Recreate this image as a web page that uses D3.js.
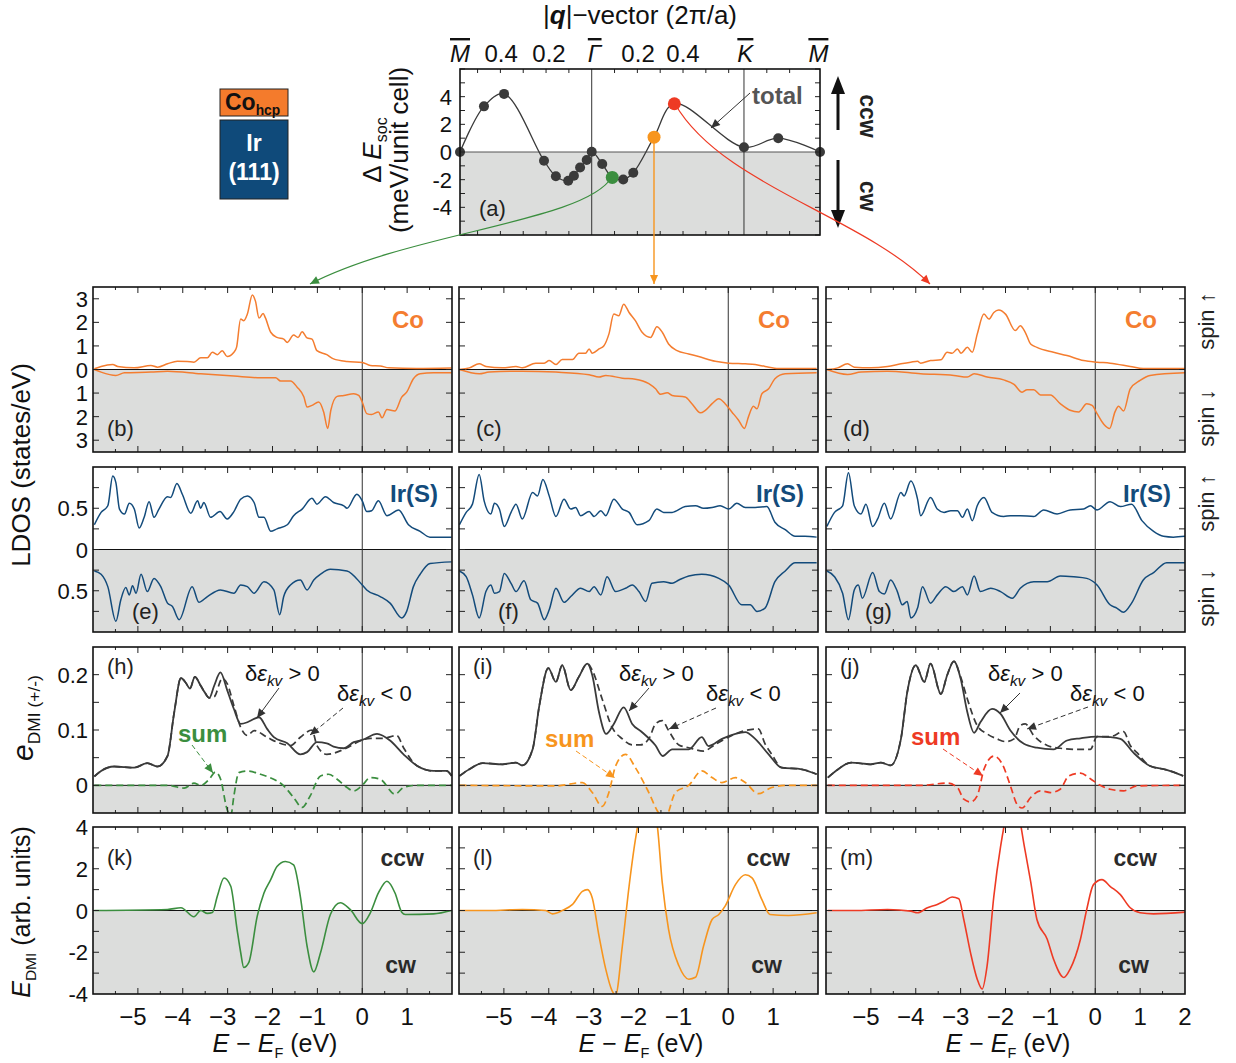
<!DOCTYPE html>
<html>
<head>
<meta charset="utf-8">
<script src="https://cdn.jsdelivr.net/npm/d3@7"></script>
<style>
body { margin: 0; background: #fff; }
svg text { font-family: "Liberation Sans", Arial, sans-serif; }
</style>
</head>
<body>
<div id="chart-area"></div>
<script>

// ---------------- data: panel (a), energy along the q-path ----------------
// q-path coordinate: M=0, Gamma=0.577, K=1.244, M=1.577 (2pi/a)
let qPath = [0, 0.105, 0.193, 0.368, 0.42, 0.474, 0.499, 0.526, 0.555, 0.577, 0.623, 0.667, 0.715, 0.759, 0.85, 0.939, 1.244, 1.394, 1.577];
let dEsoc = [0, 3.3, 4.2, -0.63, -1.75, -2.08, -1.72, -1.12, -0.58, 0.02, -0.87, -1.84, -1.99, -1.5, 1.07, 3.49, 0.34, 1.0, 0];
let highlightIdx = [11, 14, 15];          // green, orange, red points
let qTickPos = [0, 0.18, 0.39, 0.59, 0.78, 0.977, 1.25, 1.57];
let qTickLab = ["M", "0.4", "0.2", "Γ", "0.2", "0.4", "K", "M"];

// ---------------- column 1 (b, e, h, k) ----------------
let coUpB = [[-5.97,0.03],[-5.82,0.13],[-5.56,0.21],[-5.45,0.13],[-5.08,0.07],[-4.71,0.17],[-4.56,0.10],[-4.34,0.24],[-4.12,0.35],[-3.90,0.34],[-3.75,0.31],[-3.60,0.50],[-3.45,0.50],[-3.34,0.73],[-3.23,0.63],[-3.12,0.80],[-3.01,0.55],[-2.86,0.73],[-2.80,0.95],[-2.71,2.14],[-2.64,2.07],[-2.56,2.35],[-2.45,3.16],[-2.38,2.90],[-2.30,2.18],[-2.21,2.38],[-2.16,2.20],[-2.04,1.58],[-1.90,1.36],[-1.75,1.29],[-1.67,1.15],[-1.53,1.46],[-1.43,1.36],[-1.34,1.60],[-1.23,1.34],[-1.12,1.29],[-1.01,0.80],[-0.79,0.63],[-0.64,0.45],[-0.34,0.34],[0.0,0.30],[0.18,0.17],[0.40,0.15],[0.59,0.07],[1.21,0.04],[1.99,0.06]];
let coDnB = [[-5.97,0.0],[-5.82,0.11],[-5.49,0.25],[-5.30,0.14],[-4.71,0.11],[-4.34,0.07],[-3.60,0.18],[-2.86,0.28],[-2.27,0.35],[-1.93,0.35],[-1.82,0.49],[-1.60,0.49],[-1.45,0.75],[-1.30,1.17],[-1.23,1.59],[-1.12,1.52],[-0.97,1.38],[-0.86,1.80],[-0.77,2.50],[-0.70,1.73],[-0.56,1.14],[-0.41,1.10],[-0.19,1.03],[-0.08,1.10],[0.0,1.38],[0.10,1.87],[0.21,1.91],[0.36,1.80],[0.44,2.05],[0.55,1.70],[0.73,1.76],[0.88,1.17],[0.99,0.96],[1.14,0.39],[1.29,0.18],[1.59,0.14],[1.99,0.14]];
let irUpE = [[-5.97,0.30],[-5.82,0.45],[-5.67,0.53],[-5.56,0.89],[-5.49,0.81],[-5.41,0.49],[-5.30,0.43],[-5.19,0.56],[-5.08,0.49],[-4.97,0.26],[-4.86,0.39],[-4.75,0.58],[-4.64,0.39],[-4.53,0.49],[-4.34,0.64],[-4.27,0.63],[-4.13,0.80],[-4.01,0.67],[-3.82,0.44],[-3.67,0.59],[-3.60,0.50],[-3.53,0.57],[-3.38,0.39],[-3.17,0.46],[-3.01,0.37],[-2.86,0.46],[-2.71,0.61],[-2.56,0.65],[-2.41,0.57],[-2.30,0.39],[-2.19,0.39],[-2.04,0.22],[-1.90,0.25],[-1.67,0.30],[-1.53,0.41],[-1.34,0.49],[-1.12,0.62],[-1.01,0.55],[-0.82,0.64],[-0.64,0.57],[-0.41,0.53],[-0.34,0.50],[-0.12,0.67],[0.0,0.59],[0.10,0.46],[0.21,0.47],[0.36,0.59],[0.55,0.41],[0.81,0.48],[1.03,0.30],[1.29,0.22],[1.51,0.15],[1.99,0.15]];
let irDnE = [[-5.97,0.26],[-5.82,0.30],[-5.67,0.45],[-5.49,0.87],[-5.38,0.61],[-5.27,0.46],[-5.19,0.55],[-5.12,0.44],[-5.04,0.53],[-4.93,0.30],[-4.79,0.51],[-4.64,0.35],[-4.49,0.45],[-4.34,0.65],[-4.23,0.69],[-4.08,0.85],[-3.79,0.45],[-3.64,0.64],[-3.45,0.57],[-3.16,0.49],[-2.86,0.53],[-2.71,0.43],[-2.56,0.45],[-2.41,0.53],[-2.19,0.39],[-1.97,0.49],[-1.84,0.79],[-1.75,0.57],[-1.60,0.43],[-1.38,0.37],[-1.23,0.49],[-1.08,0.37],[-0.93,0.30],[-0.71,0.24],[-0.34,0.26],[0.0,0.43],[0.10,0.49],[0.40,0.57],[0.62,0.65],[0.88,0.83],[0.99,0.75],[1.14,0.45],[1.29,0.30],[1.51,0.17],[1.99,0.15]];
let ePlusH = [[-5.97,0.016],[-5.82,0.026],[-5.53,0.034],[-5.08,0.032],[-4.79,0.040],[-4.56,0.034],[-4.34,0.053],[-4.19,0.132],[-4.04,0.194],[-3.93,0.185],[-3.84,0.175],[-3.73,0.196],[-3.60,0.180],[-3.51,0.168],[-3.41,0.158],[-3.30,0.180],[-3.16,0.204],[-3.01,0.172],[-2.86,0.138],[-2.71,0.111],[-2.56,0.114],[-2.41,0.120],[-2.30,0.123],[-2.12,0.102],[-1.97,0.087],[-1.67,0.076],[-1.38,0.056],[-1.23,0.060],[-1.01,0.078],[-0.79,0.076],[-0.64,0.070],[-0.41,0.067],[-0.19,0.078],[0.0,0.082],[0.33,0.093],[0.62,0.081],[0.92,0.056],[1.21,0.036],[1.59,0.026],[1.88,0.026],[1.99,0.017]];
let eMinusH = [[-5.97,0.016],[-5.82,0.026],[-5.53,0.034],[-5.08,0.032],[-4.79,0.040],[-4.56,0.034],[-4.34,0.053],[-4.19,0.132],[-4.04,0.194],[-3.93,0.185],[-3.84,0.175],[-3.73,0.196],[-3.60,0.180],[-3.51,0.168],[-3.41,0.158],[-3.30,0.160],[-3.12,0.193],[-3.01,0.184],[-2.86,0.144],[-2.71,0.105],[-2.56,0.090],[-2.41,0.099],[-2.12,0.087],[-1.90,0.078],[-1.60,0.072],[-1.38,0.087],[-1.12,0.100],[-1.01,0.072],[-0.79,0.056],[-0.41,0.065],[0.0,0.082],[0.18,0.085],[0.47,0.085],[0.77,0.090],[0.92,0.068],[1.21,0.036],[1.59,0.026],[1.88,0.026],[1.99,0.017]];
let sumH = [[-5.97,0],[-4.34,0],[-3.97,-0.005],[-3.75,0.004],[-3.60,0],[-3.41,0.011],[-3.27,0.024],[-3.16,0.012],[-3.01,-0.044],[-2.93,-0.055],[-2.86,-0.019],[-2.75,0.023],[-2.56,0.026],[-2.27,0.020],[-2.12,0.016],[-1.75,-0.001],[-1.53,-0.022],[-1.34,-0.040],[-1.16,-0.019],[-0.93,0.017],[-0.75,0.020],[-0.56,0.011],[-0.34,-0.004],[-0.19,-0.010],[0.0,0],[0.18,0.014],[0.40,0.011],[0.73,-0.016],[0.92,-0.004],[1.21,0],[1.99,0]];
let eDmiK = [[-5.97,0],[-4.34,0.05],[-4.04,0.13],[-3.75,-0.30],[-3.60,0],[-3.45,-0.14],[-3.34,-0.10],[-3.23,0.68],[-3.08,1.56],[-2.93,1.16],[-2.79,-0.90],[-2.71,-2.0],[-2.64,-2.73],[-2.53,-2.50],[-2.34,-0.27],[-2.19,0.84],[-2.04,1.48],[-1.90,2.11],[-1.71,2.35],[-1.53,2.19],[-1.38,0.68],[-1.23,-1.70],[-1.08,-2.94],[-0.93,-2.02],[-0.71,-0.19],[-0.49,0.37],[-0.27,0.05],[0.0,-0.63],[0.18,-0.11],[0.36,0.84],[0.55,1.40],[0.73,0.84],[0.88,-0.08],[0.96,-0.19],[1.59,-0.16],[1.99,0]];

// ---------------- column 2 (c, f, i, l) ----------------
let coUpC = [[-5.99,0.0],[-5.77,0.07],[-5.55,0.24],[-5.40,0.13],[-5.03,0.07],[-4.73,0.13],[-4.59,0.07],[-4.29,0.27],[-4.10,0.27],[-3.99,0.38],[-3.84,0.21],[-3.70,0.42],[-3.47,0.42],[-3.33,0.69],[-3.18,0.69],[-3.10,0.87],[-3.03,0.69],[-2.88,0.87],[-2.77,1.01],[-2.66,1.50],[-2.55,2.35],[-2.44,2.28],[-2.33,2.77],[-2.21,2.42],[-2.07,2.07],[-1.92,1.58],[-1.73,1.36],[-1.59,1.81],[-1.47,1.58],[-1.33,1.08],[-1.14,0.80],[-0.88,0.66],[-0.66,0.55],[-0.29,0.35],[0.01,0.27],[0.38,0.24],[0.60,0.21],[0.82,0.13],[1.12,0.04],[1.97,0.04]];
let coDnC = [[-5.99,0.0],[-5.55,0.18],[-5.33,0.11],[-4.59,0.07],[-3.84,0.11],[-3.10,0.22],[-2.88,0.32],[-2.73,0.25],[-2.36,0.37],[-2.07,0.41],[-1.77,0.60],[-1.62,0.82],[-1.51,1.05],[-1.36,0.99],[-1.25,1.10],[-0.96,1.17],[-0.81,1.45],[-0.62,1.84],[-0.51,1.73],[-0.36,1.45],[-0.21,1.24],[-0.07,1.45],[0.08,1.80],[0.23,2.15],[0.36,2.50],[0.45,2.01],[0.56,1.56],[0.64,1.67],[0.75,1.03],[0.90,0.82],[1.04,0.39],[1.27,0.18],[1.97,0.14]];
let irUpF = [[-5.99,0.30],[-5.84,0.45],[-5.70,0.55],[-5.55,0.91],[-5.44,0.59],[-5.29,0.43],[-5.21,0.56],[-5.10,0.49],[-4.99,0.28],[-4.84,0.45],[-4.73,0.55],[-4.59,0.37],[-4.36,0.69],[-4.25,0.65],[-4.13,0.85],[-3.99,0.65],[-3.84,0.40],[-3.66,0.61],[-3.51,0.49],[-3.40,0.51],[-3.29,0.41],[-3.10,0.46],[-2.99,0.40],[-2.84,0.47],[-2.73,0.41],[-2.55,0.61],[-2.36,0.49],[-2.21,0.45],[-2.03,0.30],[-1.77,0.35],[-1.59,0.49],[-1.44,0.45],[-1.25,0.45],[-0.96,0.52],[-0.73,0.53],[-0.55,0.50],[-0.36,0.51],[-0.18,0.53],[0.01,0.49],[0.19,0.56],[0.38,0.51],[0.60,0.51],[0.86,0.52],[1.04,0.33],[1.27,0.24],[1.49,0.16],[1.71,0.16],[1.97,0.15]];
let irDnF = [[-5.99,0.26],[-5.84,0.33],[-5.70,0.55],[-5.55,0.83],[-5.40,0.51],[-5.29,0.43],[-5.21,0.53],[-5.10,0.51],[-4.99,0.29],[-4.84,0.41],[-4.73,0.51],[-4.55,0.38],[-4.40,0.61],[-4.25,0.65],[-4.10,0.85],[-3.99,0.73],[-3.84,0.47],[-3.66,0.64],[-3.51,0.57],[-3.29,0.47],[-3.10,0.51],[-2.99,0.45],[-2.84,0.55],[-2.70,0.33],[-2.51,0.51],[-2.29,0.47],[-2.14,0.43],[-1.99,0.51],[-1.84,0.63],[-1.70,0.41],[-1.44,0.39],[-1.25,0.41],[-1.10,0.37],[-0.88,0.32],[-0.59,0.30],[-0.21,0.35],[0.01,0.43],[0.30,0.67],[0.49,0.67],[0.64,0.75],[0.82,0.71],[1.04,0.39],[1.27,0.26],[1.49,0.16],[1.97,0.16]];
let ePlusI = [[-5.99,0.017],[-5.77,0.029],[-5.47,0.040],[-5.03,0.038],[-4.73,0.041],[-4.59,0.036],[-4.36,0.065],[-4.21,0.144],[-4.01,0.212],[-3.84,0.187],[-3.70,0.217],[-3.51,0.172],[-3.33,0.196],[-3.14,0.220],[-3.03,0.199],[-2.88,0.132],[-2.72,0.093],[-2.55,0.111],[-2.33,0.141],[-2.14,0.111],[-1.92,0.096],[-1.62,0.072],[-1.46,0.053],[-1.25,0.065],[-0.88,0.065],[-0.59,0.087],[-0.44,0.071],[-0.14,0.084],[0.16,0.093],[0.38,0.096],[0.60,0.084],[0.90,0.056],[1.19,0.032],[1.64,0.029],[1.97,0.020]];
let eMinusI = [[-5.99,0.017],[-5.77,0.029],[-5.47,0.040],[-5.03,0.038],[-4.73,0.041],[-4.59,0.036],[-4.36,0.065],[-4.21,0.144],[-4.01,0.212],[-3.84,0.187],[-3.70,0.217],[-3.51,0.172],[-3.33,0.196],[-3.14,0.220],[-3.03,0.208],[-2.81,0.156],[-2.59,0.105],[-2.36,0.084],[-2.14,0.073],[-1.96,0.073],[-1.77,0.084],[-1.62,0.111],[-1.47,0.117],[-1.33,0.099],[-1.10,0.073],[-0.88,0.068],[-0.55,0.062],[-0.29,0.074],[0.08,0.090],[0.38,0.099],[0.67,0.102],[0.82,0.075],[0.97,0.056],[1.19,0.032],[1.64,0.029],[1.97,0.020]];
let sumI = [[-5.99,0],[-3.84,-0.001],[-3.25,0.005],[-3.03,-0.013],[-2.81,-0.038],[-2.66,-0.013],[-2.51,0.035],[-2.29,0.056],[-2.07,0.032],[-1.77,-0.013],[-1.55,-0.050],[-1.40,-0.058],[-1.18,-0.013],[-0.88,0],[-0.59,0.026],[-0.36,0.014],[-0.14,0.005],[0.16,0.014],[0.38,0.005],[0.67,-0.015],[0.97,-0.004],[1.34,0],[1.97,0]];
let eDmiL = [[-5.99,0],[-5.33,0],[-4.59,0.05],[-4.07,0],[-3.92,-0.16],[-3.70,0],[-3.47,0.29],[-3.25,0.92],[-3.14,1.00],[-3.03,0.60],[-2.88,-1.22],[-2.73,-2.81],[-2.59,-3.84],[-2.51,-4.05],[-2.36,-1.70],[-2.21,1.16],[-2.07,3.38],[-1.81,5.6],[-1.59,4.2],[-1.47,1.32],[-1.33,-0.90],[-1.10,-2.65],[-0.88,-3.29],[-0.73,-3.20],[-0.55,-1.70],[-0.36,-0.43],[-0.21,-0.19],[-0.07,0.21],[0.16,1.24],[0.38,1.71],[0.53,1.56],[0.75,0.52],[0.93,-0.19],[1.34,-0.24],[1.97,-0.11]];

// ---------------- column 3 (d, g, j, m) ----------------
let coUpD = [[-5.98,0],[-5.74,0.07],[-5.52,0.24],[-5.37,0.10],[-5.00,0.07],[-4.63,0.13],[-4.33,0.24],[-4.11,0.31],[-3.96,0.35],[-3.89,0.27],[-3.67,0.38],[-3.44,0.41],[-3.30,0.73],[-3.19,0.69],[-3.07,0.87],[-2.99,0.69],[-2.85,0.94],[-2.74,0.73],[-2.63,1.50],[-2.48,2.35],[-2.37,2.14],[-2.26,2.42],[-2.15,2.52],[-2.00,2.35],[-1.78,1.65],[-1.67,1.86],[-1.56,1.58],[-1.44,1.08],[-1.30,0.94],[-0.93,0.73],[-0.63,0.59],[-0.26,0.38],[0.04,0.31],[0.33,0.27],[0.78,0.13],[1.07,0.04],[2.0,0.04]];
let coDnD = [[-5.98,0],[-5.52,0.21],[-5.22,0.11],[-4.63,0.07],[-3.89,0.18],[-3.15,0.25],[-2.85,0.32],[-2.70,0.18],[-2.41,0.32],[-2.04,0.44],[-1.81,0.63],[-1.63,0.96],[-1.52,0.86],[-1.37,0.86],[-1.22,1.08],[-1.00,1.08],[-0.78,1.45],[-0.56,1.73],[-0.37,1.80],[-0.19,1.45],[-0.07,1.52],[0.04,1.87],[0.19,2.32],[0.32,2.50],[0.44,1.80],[0.52,1.56],[0.63,1.76],[0.78,0.82],[1.00,0.46],[1.22,0.25],[2.0,0.14]];
let irUpG = [[-5.98,0.28],[-5.81,0.45],[-5.63,0.53],[-5.50,0.93],[-5.37,0.53],[-5.22,0.43],[-5.11,0.55],[-4.96,0.28],[-4.85,0.37],[-4.70,0.56],[-4.56,0.37],[-4.33,0.69],[-4.26,0.65],[-4.11,0.83],[-3.96,0.61],[-3.89,0.41],[-3.67,0.63],[-3.52,0.49],[-3.37,0.45],[-3.22,0.47],[-3.07,0.47],[-2.96,0.39],[-2.85,0.49],[-2.74,0.35],[-2.63,0.53],[-2.48,0.63],[-2.30,0.45],[-2.04,0.40],[-1.89,0.41],[-1.67,0.41],[-1.37,0.40],[-1.15,0.48],[-0.85,0.43],[-0.56,0.48],[-0.26,0.49],[-0.11,0.53],[0.04,0.48],[0.33,0.58],[0.56,0.52],[0.81,0.55],[1.04,0.35],[1.30,0.22],[1.52,0.16],[1.74,0.15],[2.0,0.16]];
let irDnG = [[-5.98,0.26],[-5.81,0.33],[-5.63,0.53],[-5.50,0.85],[-5.37,0.49],[-5.28,0.43],[-5.19,0.59],[-4.96,0.28],[-4.81,0.51],[-4.70,0.54],[-4.56,0.37],[-4.41,0.51],[-4.30,0.67],[-4.19,0.63],[-4.11,0.83],[-3.96,0.71],[-3.85,0.45],[-3.67,0.65],[-3.52,0.55],[-3.33,0.45],[-3.15,0.51],[-2.96,0.45],[-2.85,0.55],[-2.70,0.32],[-2.56,0.51],[-2.33,0.47],[-2.11,0.51],[-1.85,0.59],[-1.67,0.47],[-1.37,0.39],[-1.07,0.39],[-0.78,0.32],[-0.48,0.33],[-0.19,0.35],[0.04,0.43],[0.33,0.67],[0.48,0.71],[0.63,0.76],[0.81,0.65],[1.07,0.37],[1.30,0.28],[1.59,0.16],[2.0,0.16]];
let ePlusJ = [[-5.96,0.014],[-5.81,0.024],[-5.44,0.041],[-5.00,0.038],[-4.78,0.041],[-4.56,0.036],[-4.33,0.084],[-4.19,0.168],[-4.00,0.217],[-3.81,0.187],[-3.67,0.220],[-3.44,0.165],[-3.30,0.199],[-3.15,0.224],[-3.00,0.193],[-2.85,0.132],[-2.70,0.095],[-2.56,0.114],[-2.30,0.138],[-2.11,0.129],[-1.89,0.099],[-1.59,0.075],[-1.30,0.068],[-0.93,0.065],[-0.63,0.081],[-0.33,0.085],[0.04,0.088],[0.33,0.087],[0.56,0.084],[0.85,0.059],[1.22,0.035],[1.59,0.028],[1.96,0.017]];
let eMinusJ = [[-5.96,0.014],[-5.81,0.024],[-5.44,0.041],[-5.00,0.038],[-4.78,0.041],[-4.56,0.036],[-4.33,0.084],[-4.19,0.168],[-4.00,0.217],[-3.81,0.187],[-3.67,0.220],[-3.44,0.165],[-3.30,0.199],[-3.15,0.224],[-3.00,0.196],[-2.85,0.156],[-2.63,0.108],[-2.41,0.093],[-2.19,0.084],[-2.00,0.079],[-1.81,0.084],[-1.67,0.108],[-1.56,0.111],[-1.37,0.090],[-1.07,0.072],[-0.78,0.067],[-0.41,0.065],[-0.11,0.065],[0.04,0.088],[0.33,0.088],[0.63,0.097],[0.78,0.072],[0.93,0.059],[1.22,0.035],[1.59,0.028],[1.96,0.017]];
let sumJ = [[-5.96,0],[-3.89,0],[-3.30,0.004],[-3.07,-0.004],[-2.93,-0.025],[-2.78,-0.030],[-2.63,-0.019],[-2.48,0.029],[-2.26,0.053],[-2.07,0.038],[-1.89,-0.001],[-1.74,-0.035],[-1.63,-0.041],[-1.44,-0.022],[-1.22,-0.010],[-1.00,-0.013],[-0.78,-0.007],[-0.59,0.017],[-0.33,0.022],[-0.11,0.012],[0.11,0],[0.33,-0.007],[0.63,-0.010],[0.93,-0.001],[1.96,0]];
let eDmiM = [[-5.96,0],[-5.37,0],[-4.63,0.05],[-4.11,-0.03],[-3.96,-0.11],[-3.74,0.13],[-3.52,0.29],[-3.37,0.44],[-3.19,0.65],[-3.04,0.56],[-2.93,-0.43],[-2.78,-2.02],[-2.63,-3.29],[-2.52,-3.76],[-2.41,-2.65],[-2.26,0.68],[-2.11,3.06],[-1.83,5.5],[-1.56,2.83],[-1.44,1.40],[-1.30,-0.43],[-1.07,-1.38],[-0.93,-2.33],[-0.70,-3.21],[-0.56,-2.81],[-0.33,-1.38],[-0.19,0.05],[-0.04,1.24],[0.15,1.48],[0.33,1.16],[0.56,0.76],[0.78,0.13],[1.00,-0.11],[1.30,-0.16],[2.0,-0.08]];

// ---------------- styles ----------------
let colCo = "#f47d30";
let colIr = "#134b7b";
let colDark = "#3a3a3a";
let colShade = "#dcdddc";
let sumColors = ["#3b8e3f", "#f7951e", "#ee3a24"];

let W = 1236, H = 1063;
let colX = [93, 459, 826];
let panelW = 359;
let rows = {
	co: {y: 287, h: 165, dom: [-3.5, 3.5]},
	ir: {y: 467, h: 165, dom: [-1, 1]},
	ed: {y: 647, h: 166, dom: [-0.05, 0.25]},
	ek: {y: 827, h: 167, dom: [-4, 4]}
};

let svg = d3.select("#chart-area").append("svg")
	.attr("width", W)
	.attr("height", H);

let defs = svg.append("defs");

// arrow heads
function addMarker(id, color) {
	defs.append("marker")
		.attr("id", id)
		.attr("viewBox", "0 0 10 10")
		.attr("refX", 10).attr("refY", 5)
		.attr("markerWidth", 11).attr("markerHeight", 9)
		.attr("markerUnits", "userSpaceOnUse")
		.attr("orient", "auto")
		.append("path")
		.attr("d", "M0,0.5 L10,5 L0,9.5 z")
		.attr("fill", color);
}
addMarker("ah-green", sumColors[0]);
addMarker("ah-orange", sumColors[1]);
addMarker("ah-red", sumColors[2]);
addMarker("ah-dark", "#333");

// text with italic / bold / subscript pieces
function richText(parent, x, y, parts, size, opt) {
	opt = opt || {};
	let t = parent.append("text")
		.attr("x", x).attr("y", y)
		.attr("font-size", size)
		.attr("text-anchor", opt.anchor || "start")
		.attr("fill", opt.fill || "#111");
	if (opt.bold) t.attr("font-weight", "bold");
	if (opt.rotate) t.attr("transform", `rotate(${opt.rotate},${x},${y})`);
	let shift = 0;
	parts.forEach(p => {
		let s = t.append("tspan").text(p.t);
		if (p.it) s.attr("font-style", "italic");
		if (p.b) s.attr("font-weight", "bold");
		if (p.sub) {
			let d = size * 0.22;
			s.attr("font-size", size * (p.scale || 0.62)).attr("dy", d - shift);
			shift = d;
		} else if (shift) {
			s.attr("dy", -shift);
			shift = 0;
		}
	});
	return t;
}

let clipCount = 0;

function makePanel(col, row) {
	let r = rows[row];
	let x0 = colX[col], y0 = r.y, h = r.h;
	let x = d3.scaleLinear().domain([-6, 2]).range([x0, x0 + panelW]);
	let y = d3.scaleLinear().domain(r.dom).range([y0 + h, y0]);
	let g = svg.append("g");
	let id = "clip" + (clipCount++);
	defs.append("clipPath").attr("id", id)
		.append("rect").attr("x", x0).attr("y", y0).attr("width", panelW).attr("height", h);

	g.append("rect").attr("x", x0).attr("y", y0).attr("width", panelW).attr("height", h).attr("fill", "#fff");
	g.append("rect").attr("x", x0).attr("y", y(0)).attr("width", panelW).attr("height", y0 + h - y(0)).attr("fill", colShade);
	g.append("line").attr("x1", x0).attr("x2", x0 + panelW).attr("y1", y(0)).attr("y2", y(0))
		.attr("stroke", "#111").attr("stroke-width", 1);
	g.append("line").attr("x1", x(0)).attr("x2", x(0)).attr("y1", y0).attr("y2", y0 + h)
		.attr("stroke", "#333").attr("stroke-width", 1);

	let lines = g.append("g").attr("clip-path", `url(#${id})`);
	return {g, lines, x, y, x0, y0, h};
}

function finishPanel(p, yTicks) {
	let g = p.g;
	// x ticks every 0.5 eV, top and bottom, inward
	d3.range(-5.5, 2, 0.5).forEach(v => {
		let len = Number.isInteger(v) ? 6 : 3;
		let xx = p.x(v);
		g.append("line").attr("x1", xx).attr("x2", xx).attr("y1", p.y0).attr("y2", p.y0 + len).attr("stroke", "#222");
		g.append("line").attr("x1", xx).attr("x2", xx).attr("y1", p.y0 + p.h).attr("y2", p.y0 + p.h - len).attr("stroke", "#222");
	});
	yTicks.forEach(v => {
		let yy = p.y(v);
		g.append("line").attr("x1", p.x0).attr("x2", p.x0 + 6).attr("y1", yy).attr("y2", yy).attr("stroke", "#222");
		g.append("line").attr("x1", p.x0 + panelW).attr("x2", p.x0 + panelW - 6).attr("y1", yy).attr("y2", yy).attr("stroke", "#222");
	});
	g.append("rect").attr("x", p.x0).attr("y", p.y0).attr("width", panelW).attr("height", p.h)
		.attr("fill", "none").attr("stroke", "#111").attr("stroke-width", 1.6);
}

function drawCurve(p, data, color, opt) {
	opt = opt || {};
	let sign = opt.down ? -1 : 1;
	let line = d3.line()
		.x(d => p.x(d[0]))
		.y(d => p.y(sign * d[1]))
		.curve(d3.curveMonotoneX);
	p.lines.append("path")
		.attr("d", line(data))
		.attr("fill", "none")
		.attr("stroke", color)
		.attr("stroke-width", opt.width || 1.5)
		.attr("stroke-dasharray", opt.dash || null)
		.attr("stroke-linejoin", "round");
}

let coUp = [coUpB, coUpC, coUpD], coDn = [coDnB, coDnC, coDnD];
let irUp = [irUpE, irUpF, irUpG], irDn = [irDnE, irDnF, irDnG];
let ePlus = [ePlusH, ePlusI, ePlusJ], eMinus = [eMinusH, eMinusI, eMinusJ], eSum = [sumH, sumI, sumJ];
let eDmi = [eDmiK, eDmiL, eDmiM];
let letters = [["(b)", "(e)", "(h)", "(k)"], ["(c)", "(f)", "(i)", "(l)"], ["(d)", "(g)", "(j)", "(m)"]];

let tickFont = 22;
let labFont = 22;

for (let c = 0; c < 3; c++) {
	let x0 = colX[c];

	// --- Co LDOS
	let p1 = makePanel(c, "co");
	drawCurve(p1, coUp[c], colCo);
	drawCurve(p1, coDn[c], colCo, {down: true});
	finishPanel(p1, [-3, -2, -1, 0, 1, 2, 3]);
	p1.g.append("text").attr("x", x0 + panelW - 28).attr("y", p1.y0 + 41).attr("text-anchor", "end")
		.attr("font-size", 24).attr("font-weight", "bold").attr("fill", colCo).text("Co");
	p1.g.append("text").attr("x", x0 + (c === 0 ? 14 : 17)).attr("y", p1.y0 + p1.h - 16)
		.attr("font-size", labFont).attr("fill", "#222").text(letters[c][0]);

	// --- Ir(S) LDOS
	let p2 = makePanel(c, "ir");
	drawCurve(p2, irUp[c], colIr);
	drawCurve(p2, irDn[c], colIr, {down: true});
	finishPanel(p2, [-0.75, -0.5, -0.25, 0, 0.25, 0.5, 0.75]);
	p2.g.append("text").attr("x", x0 + panelW - 14).attr("y", p2.y0 + 35).attr("text-anchor", "end")
		.attr("font-size", 24).attr("font-weight", "bold").attr("fill", colIr).text("Ir(S)");
	p2.g.append("text").attr("x", x0 + 39).attr("y", p2.y0 + p2.h - 13)
		.attr("font-size", labFont).attr("fill", "#222").text(letters[c][1]);

	// --- e_DMI (+/-)
	let p3 = makePanel(c, "ed");
	drawCurve(p3, eMinus[c], colDark, {dash: "7,4", width: 1.7});
	drawCurve(p3, ePlus[c], colDark, {width: 1.8});
	drawCurve(p3, eSum[c], sumColors[c], {dash: "7,4", width: 1.7});
	finishPanel(p3, [0, 0.05, 0.1, 0.15, 0.2]);
	p3.g.append("text").attr("x", x0 + 14).attr("y", p3.y0 + 27)
		.attr("font-size", labFont).attr("fill", "#222").text(letters[c][2]);

	// --- E_DMI
	let p4 = makePanel(c, "ek");
	drawCurve(p4, eDmi[c], sumColors[c], {width: 1.6});
	finishPanel(p4, [-3, -2, -1, 0, 1, 2, 3]);
	p4.g.append("text").attr("x", x0 + 14).attr("y", p4.y0 + 38)
		.attr("font-size", labFont).attr("fill", "#222").text(letters[c][3]);
	p4.g.append("text").attr("x", x0 + panelW - 28).attr("y", p4.y0 + 39).attr("text-anchor", "end")
		.attr("font-size", 23).attr("font-weight", "bold").attr("fill", "#2a2a2a").text("ccw");
	p4.g.append("text").attr("x", x0 + panelW - 36).attr("y", p4.y0 + 146).attr("text-anchor", "end")
		.attr("font-size", 23).attr("font-weight", "bold").attr("fill", "#2a2a2a").text("cw");

	// x tick labels + axis title
	let xTickVals = c === 2 ? [-5, -4, -3, -2, -1, 0, 1, 2] : [-5, -4, -3, -2, -1, 0, 1];
	xTickVals.forEach(v => {
		svg.append("text").attr("x", p4.x(v) - (v < 0 ? 5 : 0)).attr("y", 1025).attr("text-anchor", "middle")
			.attr("font-size", 24).attr("fill", "#111")
			.text(v < 0 ? "\u2212" + (-v) : v);
	});
	richText(svg, x0 + 182, 1052, [{t: "E", it: true}, {t: " \u2212 "}, {t: "E", it: true}, {t: "F", sub: true, scale: 0.58}, {t: " (eV)"}], 25, {anchor: "middle"});

	// y tick labels only on first column
	if (c === 0) {
		[3, 2, 1, 0, -1, -2, -3].forEach(v => {
			svg.append("text").attr("x", x0 - 5).attr("y", p1.y(v) + 8).attr("text-anchor", "end")
				.attr("font-size", tickFont).attr("fill", "#111").text(Math.abs(v));
		});
		[0.5, 0, -0.5].forEach(v => {
			svg.append("text").attr("x", x0 - 5).attr("y", p2.y(v) + 8).attr("text-anchor", "end")
				.attr("font-size", tickFont).attr("fill", "#111").text(Math.abs(v));
		});
		[0.2, 0.1, 0].forEach(v => {
			svg.append("text").attr("x", x0 - 5).attr("y", p3.y(v) + 8).attr("text-anchor", "end")
				.attr("font-size", tickFont).attr("fill", "#111").text(v);
		});
		[4, 2, 0, -2, -4].forEach(v => {
			svg.append("text").attr("x", x0 - 5).attr("y", p4.y(v) + 8).attr("text-anchor", "end")
				.attr("font-size", tickFont).attr("fill", "#111").text(v);
		});
	}
}

// annotations in the e_DMI row
let annot = [
	{pos: [245, 681], neg: [337, 701], sum: [178, 742], a1: [279, 688, 257, 718], a2: [343, 708, 310, 735], a3: [192, 745, 213, 773]},
	{pos: [619, 681], neg: [706, 701], sum: [545, 747], a1: [649, 688, 629, 711], a2: [716, 708, 669, 729], a3: [576, 751, 615, 778]},
	{pos: [988, 681], neg: [1070, 701], sum: [911, 745], a1: [1020, 693, 1000, 713], a2: [1088, 707, 1027, 729], a3: [943, 749, 983, 776]}
];
let annotG = svg.append("g");
annot.forEach((a, i) => {
	richText(annotG, a.pos[0], a.pos[1], [{t: "δ"}, {t: "ε", it: true}, {t: "kv", it: true, sub: true, scale: 0.7}, {t: " > 0"}], 22);
	richText(annotG, a.neg[0], a.neg[1], [{t: "δ"}, {t: "ε", it: true}, {t: "kv", it: true, sub: true, scale: 0.7}, {t: " < 0"}], 22);
	annotG.append("text").attr("x", a.sum[0]).attr("y", a.sum[1]).attr("font-size", 24)
		.attr("font-weight", "bold").attr("fill", sumColors[i]).text("sum");
	annotG.append("line").attr("x1", a.a1[0]).attr("y1", a.a1[1]).attr("x2", a.a1[2]).attr("y2", a.a1[3])
		.attr("stroke", "#333").attr("stroke-width", 1).attr("marker-end", "url(#ah-dark)");
	annotG.append("line").attr("x1", a.a2[0]).attr("y1", a.a2[1]).attr("x2", a.a2[2]).attr("y2", a.a2[3])
		.attr("stroke", "#333").attr("stroke-width", 1).attr("stroke-dasharray", "5,3").attr("marker-end", "url(#ah-dark)");
	annotG.append("line").attr("x1", a.a3[0]).attr("y1", a.a3[1]).attr("x2", a.a3[2]).attr("y2", a.a3[3])
		.attr("stroke", sumColors[i]).attr("stroke-width", 1).attr("stroke-dasharray", "5,3")
		.attr("marker-end", ["url(#ah-green)", "url(#ah-orange)", "url(#ah-red)"][i]);
});

// left axis titles
richText(svg, 30, 465, [{t: "LDOS (states/eV)"}], 26, {anchor: "middle", rotate: -90});
richText(svg, 33, 718, [{t: "e", it: true}, {t: "DMI (+/-)", sub: true, scale: 0.58}], 30, {anchor: "middle", rotate: -90});
richText(svg, 30, 912, [{t: "E", it: true}, {t: "DMI", sub: true}, {t: " (arb. units)"}], 25, {anchor: "middle", rotate: -90});

// right side spin labels
[[321, "spin \u2191"], [418, "spin \u2193"], [503, "spin \u2191"], [598, "spin \u2193"]].forEach(s => {
	svg.append("text").attr("x", 1214).attr("y", s[0]).attr("text-anchor", "middle")
		.attr("font-size", 22).attr("fill", "#222")
		.attr("transform", `rotate(-90,1214,${s[0]})`).text(s[1]);
});

// ---------------- panel (a) ----------------
let qx = d3.scaleLinear().domain([0, 1.577]).range([460, 820]);
let qy = d3.scaleLinear().domain([-6, 6]).range([235, 69]);
let ga = svg.append("g");
ga.append("rect").attr("x", 460).attr("y", 69).attr("width", 360).attr("height", 166).attr("fill", "#fff");
ga.append("rect").attr("x", 460).attr("y", qy(0)).attr("width", 360).attr("height", 235 - qy(0)).attr("fill", colShade);
ga.append("line").attr("x1", 460).attr("x2", 820).attr("y1", qy(0)).attr("y2", qy(0)).attr("stroke", "#555");
[0.577, 1.244].forEach(v => {
	ga.append("line").attr("x1", qx(v)).attr("x2", qx(v)).attr("y1", 69).attr("y2", 235).attr("stroke", "#333");
});

// connector arrows from highlighted points down to the column panels
let connG = svg.append("g");
connG.append("path").attr("d", "M612,177 C585,222 410,232 310,284")
	.attr("fill", "none").attr("stroke", sumColors[0]).attr("stroke-width", 1.2).attr("marker-end", "url(#ah-green)");
connG.append("path").attr("d", "M654,137 L654,284")
	.attr("fill", "none").attr("stroke", sumColors[1]).attr("stroke-width", 1.4).attr("marker-end", "url(#ah-orange)");
connG.append("path").attr("d", "M675,104 C722,185 860,215 930,284")
	.attr("fill", "none").attr("stroke", sumColors[2]).attr("stroke-width", 1.2).attr("marker-end", "url(#ah-red)");

let qLine = d3.line()
	.x((d, i) => qx(qPath[i]))
	.y(d => qy(d))
	.curve(d3.curveCatmullRom.alpha(0.5));
ga.append("path").attr("d", qLine(dEsoc)).attr("fill", "none").attr("stroke", colDark).attr("stroke-width", 1.3);

ga.selectAll("circle")
	.data(dEsoc)
	.enter()
	.append("circle")
	.attr("cx", (d, i) => qx(qPath[i]))
	.attr("cy", d => qy(d))
	.attr("r", (d, i) => highlightIdx.includes(i) ? 6.5 : 5)
	.attr("fill", (d, i) => {
		let k = highlightIdx.indexOf(i);
		return k >= 0 ? sumColors[k] : "#3a3a3a";
	});

// ticks of (a)
d3.range(-6, 7, 1).forEach(v => {
	ga.append("line").attr("x1", 460).attr("x2", 465).attr("y1", qy(v)).attr("y2", qy(v)).attr("stroke", "#222");
	ga.append("line").attr("x1", 820).attr("x2", 815).attr("y1", qy(v)).attr("y2", qy(v)).attr("stroke", "#222");
});
let qMinor = [0.077, 0.177, 0.277, 0.377, 0.477, 0.677, 0.777, 0.877, 0.977, 1.077, 1.177, 1.344, 1.444];
qMinor.forEach(v => {
	ga.append("line").attr("x1", qx(v)).attr("x2", qx(v)).attr("y1", 69).attr("y2", 73).attr("stroke", "#222");
	ga.append("line").attr("x1", qx(v)).attr("x2", qx(v)).attr("y1", 235).attr("y2", 231).attr("stroke", "#222");
});
ga.append("rect").attr("x", 460).attr("y", 69).attr("width", 360).attr("height", 166)
	.attr("fill", "none").attr("stroke", "#111").attr("stroke-width", 1.6);

[4, 2, 0, -2, -4].forEach(v => {
	ga.append("text").attr("x", 452).attr("y", qy(v) + 8).attr("text-anchor", "end")
		.attr("font-size", tickFont).attr("fill", "#111").text(v);
});
qTickPos.forEach((v, i) => {
	let lab = qTickLab[i];
	let t = ga.append("text").attr("x", qx(v)).attr("y", 62)
		.attr("text-anchor", "middle").attr("font-size", 24).attr("fill", "#111").text(lab);
	if (isNaN(+lab)) {
		t.attr("font-style", "italic").style("text-decoration", "overline");
	}
});
ga.append("text").attr("x", 479).attr("y", 216).attr("font-size", labFont).attr("fill", "#222").text("(a)");
ga.append("text").attr("x", 752).attr("y", 104).attr("font-size", 24).attr("font-weight", "bold").attr("fill", "#555").text("total");
ga.append("line").attr("x1", 750).attr("y1", 93).attr("x2", 711).attr("y2", 128)
	.attr("stroke", "#333").attr("stroke-width", 1).attr("marker-end", "url(#ah-dark)");

// title above (a)
let title = ga.append("text").attr("x", 640).attr("y", 24).attr("text-anchor", "middle").attr("font-size", 26).attr("fill", "#111");
title.append("tspan").text("|");
title.append("tspan").attr("font-weight", "bold").attr("font-style", "italic").text("q");
title.append("tspan").text("|\u2212vector (2\u03c0/a)");

// y title of (a)
richText(ga, 381, 150, [{t: "\u0394 "}, {t: "E", it: true}, {t: "soc", sub: true}], 26, {anchor: "middle", rotate: -90});
richText(ga, 408, 150, [{t: "(meV/unit cell)"}], 26, {anchor: "middle", rotate: -90});

// ccw / cw arrows beside (a)
ga.append("line").attr("x1", 838).attr("x2", 838).attr("y1", 130).attr("y2", 92).attr("stroke", "#111").attr("stroke-width", 3);
ga.append("path").attr("d", "M831,94 L838,76 L845,94 z").attr("fill", "#111");
ga.append("line").attr("x1", 838).attr("x2", 838).attr("y1", 160).attr("y2", 212).attr("stroke", "#111").attr("stroke-width", 3);
ga.append("path").attr("d", "M831,210 L838,228 L845,210 z").attr("fill", "#111");
ga.append("text").attr("x", 860).attr("y", 116).attr("text-anchor", "middle").attr("font-size", 23)
	.attr("font-weight", "bold").attr("fill", "#222").attr("transform", "rotate(90,860,116)").text("ccw");
ga.append("text").attr("x", 860).attr("y", 196).attr("text-anchor", "middle").attr("font-size", 23)
	.attr("font-weight", "bold").attr("fill", "#222").attr("transform", "rotate(90,860,196)").text("cw");

// Co(hcp)/Ir(111) sketch
let gs = svg.append("g");
gs.append("rect").attr("x", 220).attr("y", 89).attr("width", 68).attr("height", 27)
	.attr("fill", "#f47b2c").attr("stroke", "#222").attr("stroke-width", 1);
gs.append("rect").attr("x", 220).attr("y", 120).attr("width", 68).attr("height", 79)
	.attr("fill", "#0f4a7a").attr("stroke", "#222").attr("stroke-width", 1);
richText(gs, 225, 110, [{t: "Co"}, {t: "hcp", sub: true, scale: 0.6}], 23, {bold: true, fill: "#111"});
gs.append("text").attr("x", 254).attr("y", 151).attr("text-anchor", "middle").attr("font-size", 23)
	.attr("font-weight", "bold").attr("fill", "#fff").text("Ir");
gs.append("text").attr("x", 254).attr("y", 180).attr("text-anchor", "middle").attr("font-size", 23)
	.attr("font-weight", "bold").attr("fill", "#fff").text("(111)");

</script>
</body>
</html>
